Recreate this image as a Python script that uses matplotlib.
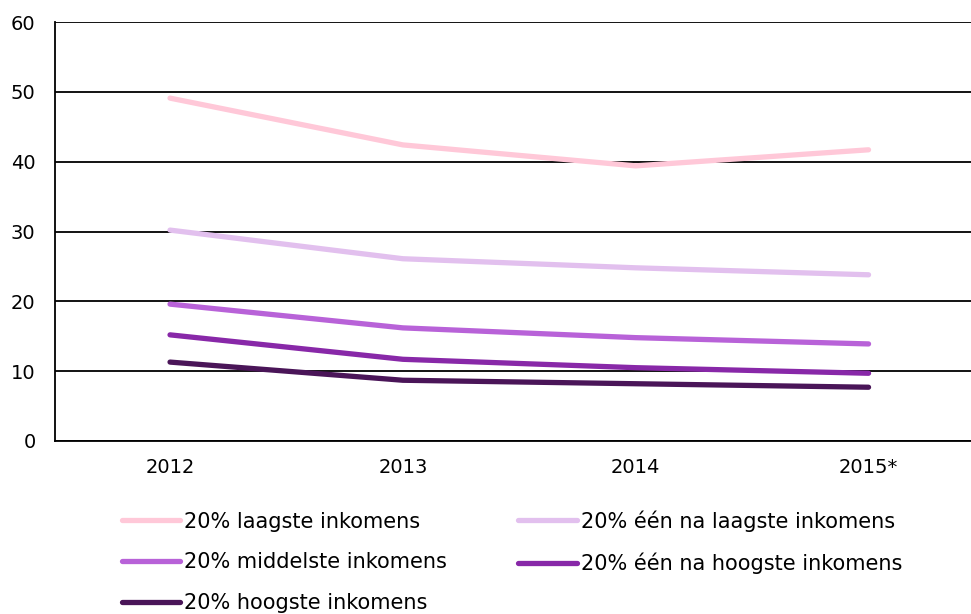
import numpy as np
import matplotlib.pyplot as plt

# Data
years = ['2012', '2013', '2014', '2015*']
laagste = [49.1, 42.4, 39.4, 41.7]
een_na_laagste = [30.2, 26.1, 24.8, 23.8]
middelste = [19.6, 16.2, 14.8, 13.9]
een_na_hoogste = [15.2, 11.7, 10.5, 9.7]
hoogste = [11.3, 8.7, 8.2, 7.7]

labels = ['20% laagste inkomens', '20% één na laagste inkomens',
          '20% middelste inkomens', '20% één na hoogste inkomens',
          '20% hoogste inkomens']
colors = ['#ffc8d8', '#e2c0ee', '#b862d8', '#8828a8', '#4a1558']
series = [laagste, een_na_laagste, middelste, een_na_hoogste, hoogste]

fig = plt.figure(figsize=(9.71, 6.14), dpi=100)
ax = fig.add_axes([55 / 971, 1 - 441 / 614, 1 - 55 / 971, (441 - 22) / 614])

x = np.arange(len(years))
lines = []
for vals, lab, col in zip(series, labels, colors):
    ln, = ax.plot(x, vals, color=col, lw=3.8, label=lab,
                  solid_capstyle='round', zorder=3)
    lines.append(ln)

ax.set_ylim(0, 60)
ax.set_yticks(range(0, 61, 10))
ax.set_xlim(-0.494, 3.44)
ax.set_xticks(x)
ax.set_xticklabels(years)
ax.grid(axis='y', color='black', lw=1.3, zorder=1)
ax.set_axisbelow(True)
for s in ['top', 'right']:
    ax.spines[s].set_visible(False)
ax.spines['left'].set_linewidth(1.3)
ax.spines['bottom'].set_linewidth(1.3)
ax.tick_params(axis='y', length=0, pad=14, labelsize=14)
ax.tick_params(axis='x', length=0, pad=12, labelsize=14)

# legend fills row by row in the reference, matplotlib fills by column
order = [0, 2, 4, 1, 3]
fig.legend([lines[i] for i in order], [labels[i] for i in order],
           loc='upper left', bbox_to_anchor=(122 / 971, 1 - 510 / 614),
           ncol=2, frameon=False, fontsize=15, handlelength=2.8,
           handletextpad=0.2, labelspacing=1.0, columnspacing=3.4,
           borderpad=0, borderaxespad=0)

fig.savefig('out.png', dpi=100)
